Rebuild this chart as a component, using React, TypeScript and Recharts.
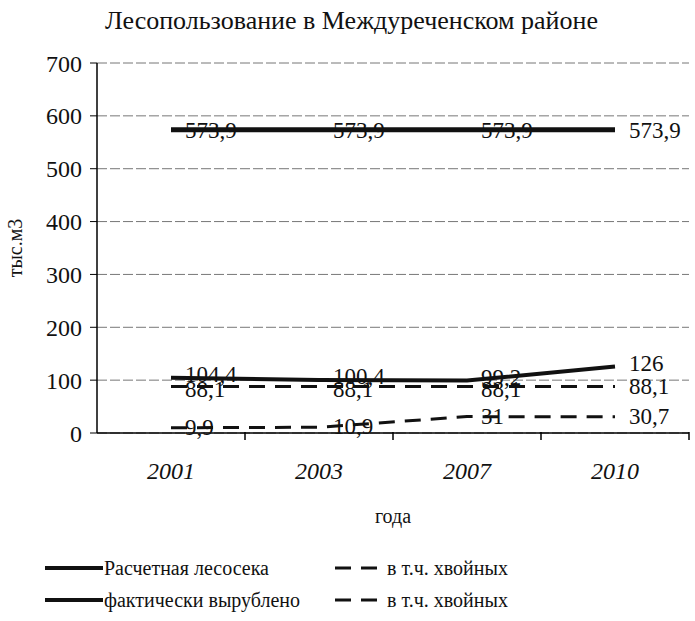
import React from 'react';
import { ComposedChart, Line, XAxis, YAxis, CartesianGrid, LabelList } from 'recharts';

const years = ['2001', '2003', '2007', '2010'];
const raschetnaya = [573.9, 573.9, 573.9, 573.9];
const raschetnayaHvoi = [88.1, 88.1, 88.1, 88.1];
const faktich = [104.4, 100.4, 99.2, 126];
const faktichHvoi = [9.9, 10.9, 31, 30.7];
const yTicks = [0, 100, 200, 300, 400, 500, 600, 700];

const data = years.map((y, i) => ({
  year: y,
  r: raschetnaya[i],
  rh: raschetnayaHvoi[i],
  f: faktich[i],
  fh: faktichHvoi[i],
}));

const FONT = "'Liberation Serif', 'DejaVu Serif', 'Times New Roman', serif";
const fmt = (v: number) => String(v).replace('.', ',');

// Excel-style labels: to the right of each point, lines run through them
const makeLabel = (dyMid: number, dyEnd: number) => (props: any) => {
  const { x, y, value, index } = props;
  const last = index === years.length - 1;
  return (
    <text x={x + 14} y={y + (last ? dyEnd : dyMid)} textAnchor="start" fontFamily={FONT} fontSize={23} fill="#111">
      {fmt(value)}
    </text>
  );
};

const XTick = (props: any) => {
  const { x, y, payload } = props;
  const half = 74;
  return (
    <g>
      <line x1={x + half} y1={y - 9} x2={x + half} y2={y - 1} stroke="#000" strokeWidth={1.5} />
      <text x={x} y={y + 38} textAnchor="middle" fontFamily={FONT} fontSize={24} fontStyle="italic" fill="#111">
        {payload.value}
      </text>
    </g>
  );
};

const legendItems = [
  { name: 'Расчетная лесосека', dashed: false },
  { name: 'в т.ч. хвойных', dashed: true },
  { name: 'фактически вырублено', dashed: false },
  { name: 'в т.ч. хвойных', dashed: true },
];

const LegendBox = () => (
  <div style={{ position: 'absolute', left: 45, top: 556, display: 'grid', gridTemplateColumns: '290px 260px', rowGap: 8, fontFamily: FONT, fontSize: 20, color: '#111', lineHeight: '24px' }}>
    {legendItems.map((it, i) => (
      <div key={i} style={{ display: 'flex', alignItems: 'center' }}>
        <svg width={it.dashed ? 46 : 58} height={10}>
          <line
            x1={0}
            y1={5}
            x2={it.dashed ? 46 : 58}
            y2={5}
            stroke="#111"
            strokeWidth={it.dashed ? 3 : 4}
            strokeDasharray={it.dashed ? '16 10' : undefined}
          />
        </svg>
        <span style={{ marginLeft: it.dashed ? 6 : 1 }}>{it.name}</span>
      </div>
    ))}
  </div>
);

export default function App() {
  return (
    <div style={{ position: 'absolute', left: 0, top: 0, width: 695, height: 621, background: '#fff', overflow: 'hidden' }}>
      <div style={{ position: 'absolute', top: 6, left: 4, width: 695, textAlign: 'center', fontFamily: FONT, fontSize: 26, color: '#111' }}>
        Лесопользование в Междуреченском районе
      </div>
      <ComposedChart width={695} height={621} data={data} margin={{ top: 63, right: 6, left: 37, bottom: 148 }}>
        <CartesianGrid vertical={false} stroke="#777" strokeDasharray="10 3" />
        <XAxis
          dataKey="year"
          scale="band"
          axisLine={{ stroke: '#000', strokeWidth: 1.5 }}
          tickLine={false}
          tick={<XTick />}
          height={40}
          interval={0}
        />
        <YAxis
          domain={[0, 700]}
          ticks={yTicks}
          width={60}
          axisLine={{ stroke: '#000', strokeWidth: 1.5 }}
          tickLine={{ stroke: '#000' }}
          tickSize={7}
          tickMargin={8}
          tick={{ fontFamily: FONT, fontSize: 24, fill: '#111' }}
          label={{ value: 'тыс.м3', angle: -90, position: 'insideLeft', offset: -22, textAnchor: 'middle', fontFamily: FONT, fontSize: 20, fill: '#111' }}
        />
        <Line dataKey="r" name="Расчетная лесосека" stroke="#111" strokeWidth={5} dot={false} isAnimationActive={false}>
          <LabelList dataKey="r" content={makeLabel(8, 8)} />
        </Line>
        <Line dataKey="rh" name="в т.ч. хвойных" stroke="#111" strokeWidth={3} strokeDasharray="16 10" dot={false} isAnimationActive={false}>
          <LabelList dataKey="rh" content={makeLabel(11, 8)} />
        </Line>
        <Line dataKey="f" name="фактически вырублено" stroke="#111" strokeWidth={4} dot={false} isAnimationActive={false}>
          <LabelList dataKey="f" content={makeLabel(4, 5)} />
        </Line>
        <Line dataKey="fh" name="в т.ч. хвойных" stroke="#111" strokeWidth={3} strokeDasharray="16 10" dot={false} isAnimationActive={false}>
          <LabelList dataKey="fh" content={makeLabel(7, 7)} />
        </Line>
      </ComposedChart>
      <div style={{ position: 'absolute', top: 505, left: 393, transform: 'translateX(-50%)', fontFamily: FONT, fontSize: 20, color: '#111' }}>
        года
      </div>
      <LegendBox />
    </div>
  );
}
